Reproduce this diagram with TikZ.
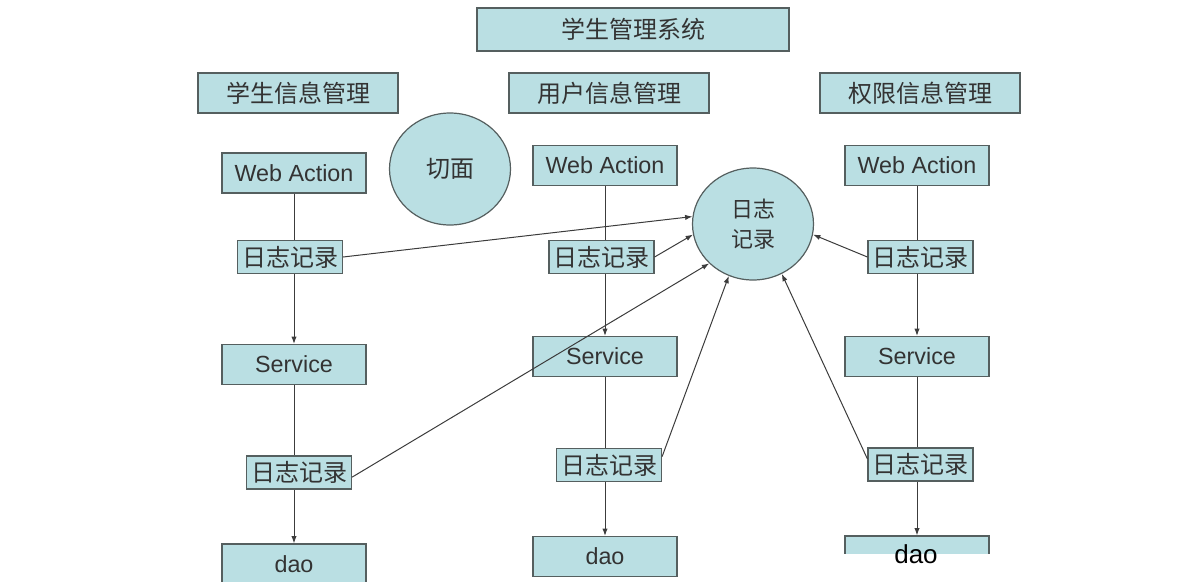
\documentclass[tikz,border=0pt]{standalone}
\usepackage{fontspec}
\setmainfont{Liberation Sans}
\newfontfamily\cjk{Noto Sans CJK SC}
\usetikzlibrary{arrows.meta}
\usetikzlibrary{shapes.geometric}
\definecolor{boxfill}{RGB}{186,223,227}
\definecolor{boxline}{RGB}{85,95,95}
\definecolor{wire}{RGB}{60,60,60}

\begin{document}
\begin{tikzpicture}[x=0.75pt, y=-0.75pt, every node/.style = {shape=rectangle,
	draw=boxline, fill=boxfill, text=black!80, inner sep=0pt, line width=0.9pt,
	font=\fontsize{17.5}{21}\selectfont},
	titlebox/.style = {minimum width=234pt, minimum height=32.25pt},
	headbox/.style = {minimum width=150pt, minimum height=30pt},
	layerbox/.style = {minimum width=108pt, minimum height=30pt},
	logbox/.style = {minimum width=78.75pt, minimum height=24.75pt},
	cn/.style = {font=\cjk\fontsize{18}{21}\selectfont},
	bubble/.style = {ellipse, minimum width=90.75pt, minimum height=84pt, align=center},
	wire/.style = {draw=wire, line width=0.75pt, ->, >={Latex[length=5.5pt,width=4pt]}}]
\useasboundingbox (0,0) rectangle (1204,582);
\clip (0,0) rectangle (1204,582);

\node[titlebox, cn] (sys) at (633,29.5) {学生管理系统};
\node[headbox, cn] (stu) at (298,93) {学生信息管理};
\node[headbox, cn] (usr) at (609,93) {用户信息管理};
\node[headbox, cn] (acl) at (920,93) {权限信息管理};

\node[bubble, cn] (cut) at (450,169) {切面};
\node[bubble, font=\cjk\fontsize{16.5}{22.5}\selectfont] (logC) at (753,224) {日志\\记录};

% three layers per module
\node[layerbox] (waL) at (294,173) {Web Action};
\node[layerbox] (svL) at (294,364.5) {Service};
\node[layerbox] (daoL) at (294,564) {dao};

\node[layerbox] (waM) at (605,165.5) {Web Action};
\node[layerbox] (svM) at (605,356.5) {Service};
\node[layerbox] (daoM) at (605,556.5) {dao};

\node[layerbox] (waR) at (917,165.5) {Web Action};
\node[layerbox] (svR) at (917,356.5) {Service};
\node[layerbox] (daoR) at (917,556) {};
\fill[white] (838,554) rectangle (1000,582);
\node[draw=none, fill=none, text=black, anchor=base,
	font=\fontsize{19.5}{22}\selectfont] (daoRt) at (916,563) {dao};

\foreach \c in {L,M,R} {
	\draw[wire] (wa\c) -- (sv\c);
	\draw[wire] (sv\c) -- (dao\c);
}

% logging advice
\node[logbox, cn] (logLa) at (290,257) {日志记录};
\node[logbox, cn] (logLb) at (299,472.5) {日志记录};
\node[logbox, cn] (logMa) at (601.5,257) {日志记录};
\node[logbox, cn] (logMb) at (609,465) {日志记录};
\node[logbox, cn] (logRa) at (920.5,257) {日志记录};
\node[logbox, cn] (logRb) at (920.5,464.5) {日志记录};

\draw[wire] (logLa.east) -- (logC.173);
\draw[wire] (logMa.east) -- (logC.190);
\draw[wire] (logLb.-5) -- (logC.222);
\draw[wire] (logMb.9) -- (logC.245);
\draw[wire] (logRb.174) -- (logC.300);
\draw[wire] (logRa.west) -- (logC.350);
\end{tikzpicture}
\end{document}
